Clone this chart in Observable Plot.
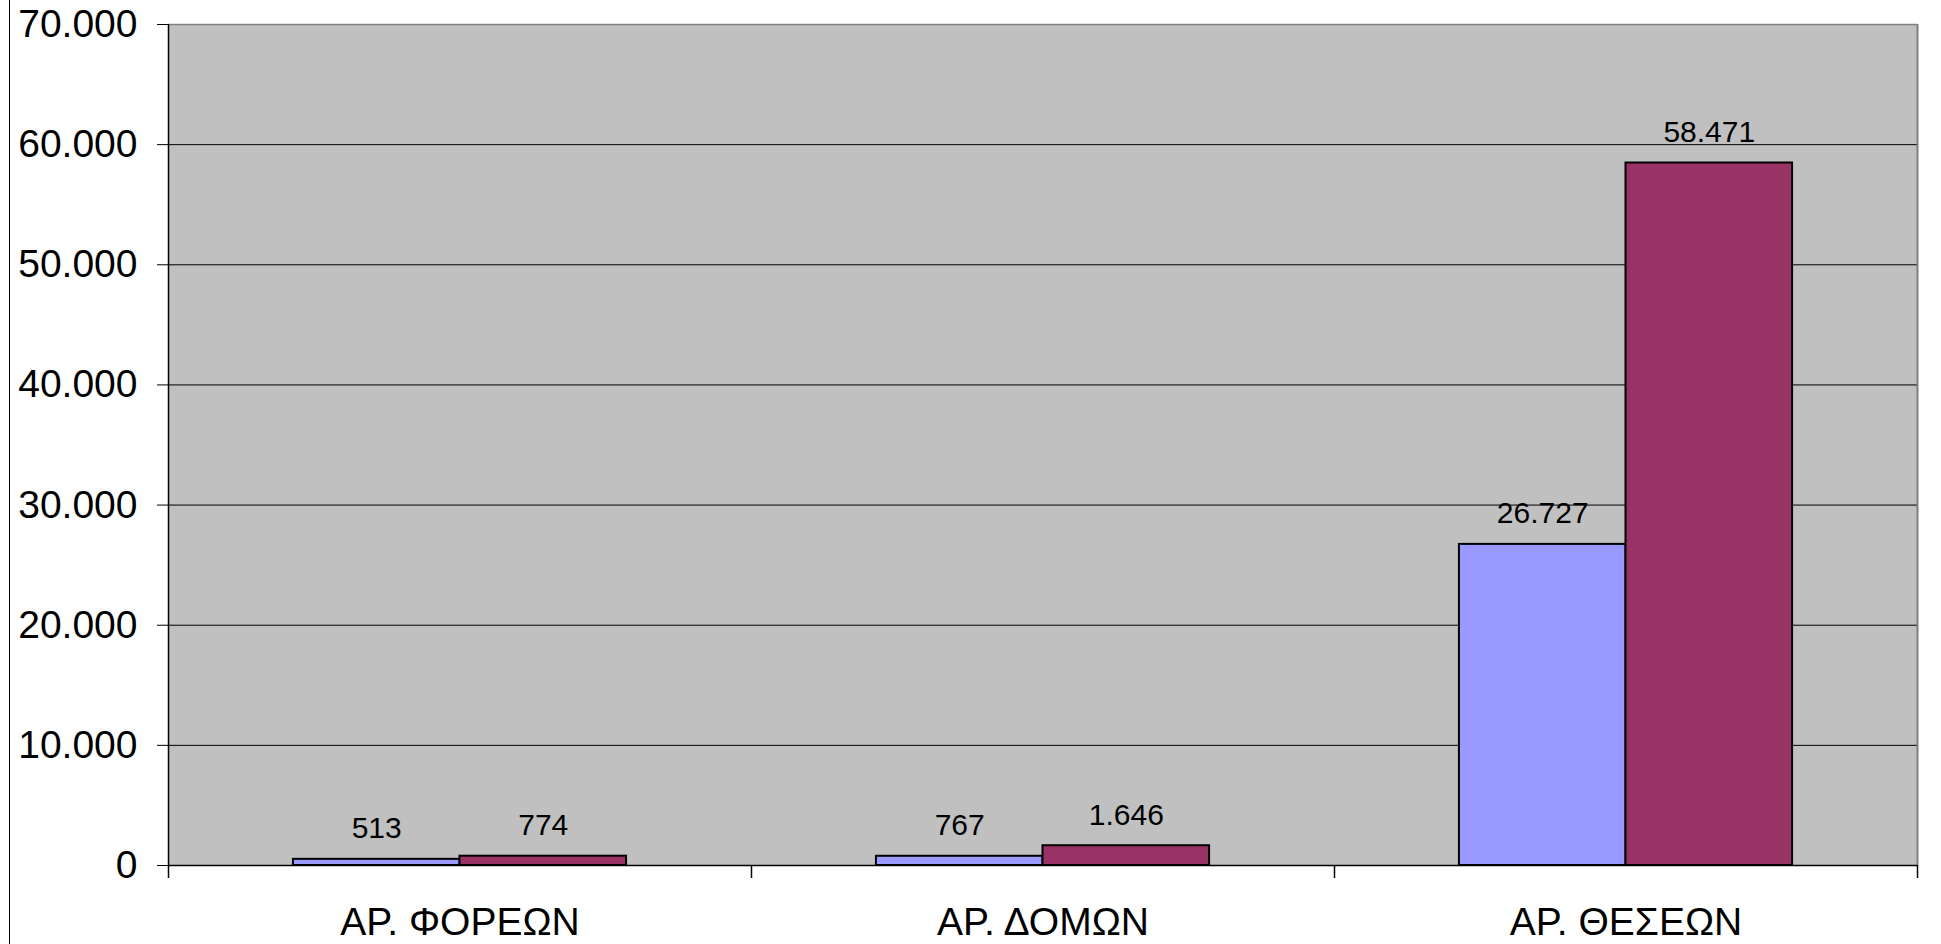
<!DOCTYPE html>
<html>
<head>
<meta charset="utf-8">
<script src="https://cdn.jsdelivr.net/npm/d3@7"></script>
<script src="https://cdn.jsdelivr.net/npm/@observablehq/plot@0.6"></script>
<style>
  html, body { margin: 0; padding: 0; background: #fff; overflow: hidden; }
  #wrap { position: relative; width: 1941px; height: 944px; }
  #edge { position: absolute; left: 9px; top: 0; width: 0; height: 944px; border-left: 1px solid #000; }
  #chart svg { display: block; }
</style>
</head>
<body>
<div id="wrap"><div id="edge"></div><div id="chart"></div></div>
<script>
// ---- data ----
const categories = ["ΑΡ. ΦΟΡΕΩΝ", "ΑΡ. ΔΟΜΩΝ", "ΑΡ. ΘΕΣΕΩΝ"];
const seriesNames = ["Σειρά 1", "Σειρά 2"];
const series1Values = [513, 767, 26727];
const series2Values = [774, 1646, 58471];
const yTicks = [0, 10000, 20000, 30000, 40000, 50000, 60000, 70000];
const seriesColors = ["#9999FF", "#993366"];

// ---- layout helpers (Excel-style clustered columns, gap width 150%) ----
const gapWidth = 1.5;
const nSeries = seriesNames.length;
const slot = 1 / (nSeries + gapWidth);
const valueSets = [series1Values, series2Values];
const rows = [];
categories.forEach((cat, i) => {
  seriesNames.forEach((s, j) => {
    rows.push({
      cat, series: s, value: valueSets[j][i],
      x1: i + (gapWidth / 2 + j) * slot,
      x2: i + (gapWidth / 2 + j + 1) * slot
    });
  });
});
const boundaries = d3.range(categories.length + 1);
const centers = categories.map((c, i) => i + 0.5);

const fmt = d3.formatLocale({decimal: ",", thousands: ".", grouping: [3], currency: ["", "€"]}).format(",d");
const FONT = "'Liberation Sans', Arial, sans-serif";

const chart = Plot.plot({
  width: 1941,
  height: 944,
  marginLeft: 168,
  marginRight: 24,
  marginTop: 24,
  marginBottom: 79,
  style: {fontFamily: FONT, fontSize: "39px", color: "#000", background: "transparent"},
  x: {type: "linear", domain: [0, categories.length]},
  y: {domain: [0, 70000], ticks: yTicks, tickSize: 11, tickPadding: 20, tickFormat: fmt, label: null},
  color: {domain: seriesNames, range: seriesColors},
  marks: [
    Plot.frame({fill: "#C0C0C0", stroke: "none"}),
    Plot.ruleY(yTicks.slice(1, -1), {stroke: "#000", strokeWidth: 1}),
    Plot.ruleY([70000], {stroke: "#808080", strokeWidth: 1.5}),
    Plot.ruleX([categories.length], {stroke: "#808080", strokeWidth: 2}),
    Plot.rectY(rows, {x1: "x1", x2: "x2", y: "value", fill: "series", stroke: "#000", strokeWidth: 2}),
    Plot.ruleY([0], {stroke: "#000", strokeWidth: 1.5}),
    Plot.ruleX([0], {stroke: "#000", strokeWidth: 1.5}),
    Plot.axisX(boundaries, {tickSize: 13, tickFormat: () => "", strokeWidth: 1.5}),
    Plot.axisX(centers, {tickSize: 0, tickPadding: 42, tickFormat: v => categories[Math.floor(v)], fontSize: 39}),
    Plot.text(rows, {
      x: d => (d.x1 + d.x2) / 2, y: "value", text: d => fmt(d.value),
      lineAnchor: "bottom", dy: -21, fontSize: 30, fill: "#000"
    })
  ]
});
document.getElementById("chart").appendChild(chart);
</script>
</body>
</html>
